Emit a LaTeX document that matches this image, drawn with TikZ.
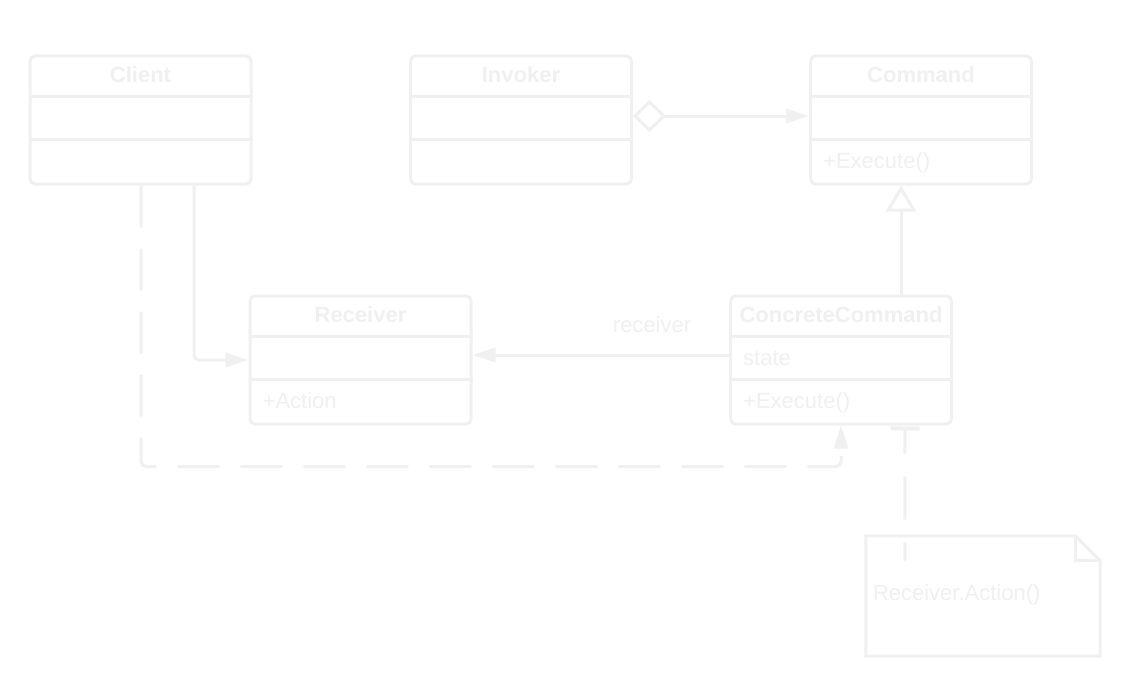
\documentclass[tikz,border=0pt]{standalone}
\usepackage{fontspec}
\setmainfont{Liberation Sans}
\usetikzlibrary{arrows.meta,calc,positioning}
\definecolor{umlgray}{HTML}{F0F0F0}
\tikzset{
  umlline/.style={draw=umlgray, line width=3pt},
  classbox/.style={umlline, rounded corners=5pt, minimum width=221pt, minimum height=128pt, inner sep=0pt},
  titletext/.style={text=umlgray, inner sep=0pt, anchor=base, font=\fontsize{22}{26}\selectfont\bfseries},
  membertext/.style={text=umlgray, inner sep=0pt, anchor=base west, font=\fontsize{22}{26}\selectfont},
  solidtip/.style={-{Triangle[length=23pt,width=14pt]}},
  dashlink/.style={umlline, dash pattern=on 42pt off 21pt},
}
% class box: name, centre x, centre y, title, attribute, operation
\newcommand{\umlclass}[6]{%
  \node[classbox] (#1) at (#2,#3) {};
  \draw[umlline] ($(#1.north west)+(0,42)$) -- ($(#1.north east)+(0,42)$);
  \draw[umlline] ($(#1.north west)+(0,85)$) -- ($(#1.north east)+(0,85)$);
  \node[titletext] (#1-title) at ($(#1.north)+(0,28)$) {#4};
  \node[membertext] (#1-attr) at ($(#1.north west)+(14,71)$) {#5};
  \node[membertext] (#1-op) at ($(#1.north west)+(14,114)$) {#6};
}
\begin{document}
\begin{tikzpicture}[x=1pt,y=-1pt]
\useasboundingbox[fill=white] (0,0) rectangle (1122,693);
%classes
\umlclass{client}{140.5}{120}{Client}{}{}
\umlclass{invoker}{521}{120}{Invoker}{}{}
\umlclass{command}{921}{120}{Command}{}{+Execute()}
\umlclass{receiver}{360.5}{360}{Receiver}{}{+Action}
\umlclass{concrete}{841}{360}{ConcreteCommand}{state}{+Execute()}
%note
\node[minimum width=234pt, minimum height=120pt, inner sep=0pt] (note) at (983,596) {};
\draw[umlline] (note.north west) -- ($(note.north east)+(-25,0)$) -- ($(note.north east)+(0,25)$)
  -- (note.south east) -- (note.south west) -- cycle;
\draw[umlline] ($(note.north east)+(-25,0)$) |- ($(note.north east)+(0,25)$);
\node[membertext] (note-text) at ($(note.north west)+(7,65)$) {Receiver.Action()};
\coordinate (notepin) at ($(note.north west)+(39,25)$);
%links
\draw[umlline, {Diamond[open,length=33pt,width=32pt,fill=white]}-{Triangle[length=23pt,width=14pt]}]
  ($(invoker.east)+(0,-4)$) -- ($(command.west)+(0,-4)$);
\draw[umlline, -{Triangle[open,length=26pt,width=30pt,fill=white]}]
  ($(concrete.north)+(60,0)$) -- ($(command.south)+(-20,0)$);
\draw[umlline, solidtip] ($(concrete.west)+(0,-5)$) -- node[pos=0.30, above=17pt, text=umlgray, font=\fontsize{22}{26}\selectfont] (reclabel) {receiver} ($(receiver.east)+(0,-5)$);
\draw[umlline, solidtip, rounded corners=5pt] ($(client.south)+(53.5,0)$) |- (receiver.west);
\draw[dashlink, solidtip, rounded corners=5pt] ($(client.south)+(0.5,0)$) |- ($(concrete.south)+(0,41)$) -- (concrete.south);
\draw[umlline, dash pattern=on 43pt off 23pt, dash phase=19pt, {Bar[width=29pt,line width=4pt]}-]
  ($(concrete.south)+(64,1)$) -- (notepin);
\end{tikzpicture}
\end{document}
